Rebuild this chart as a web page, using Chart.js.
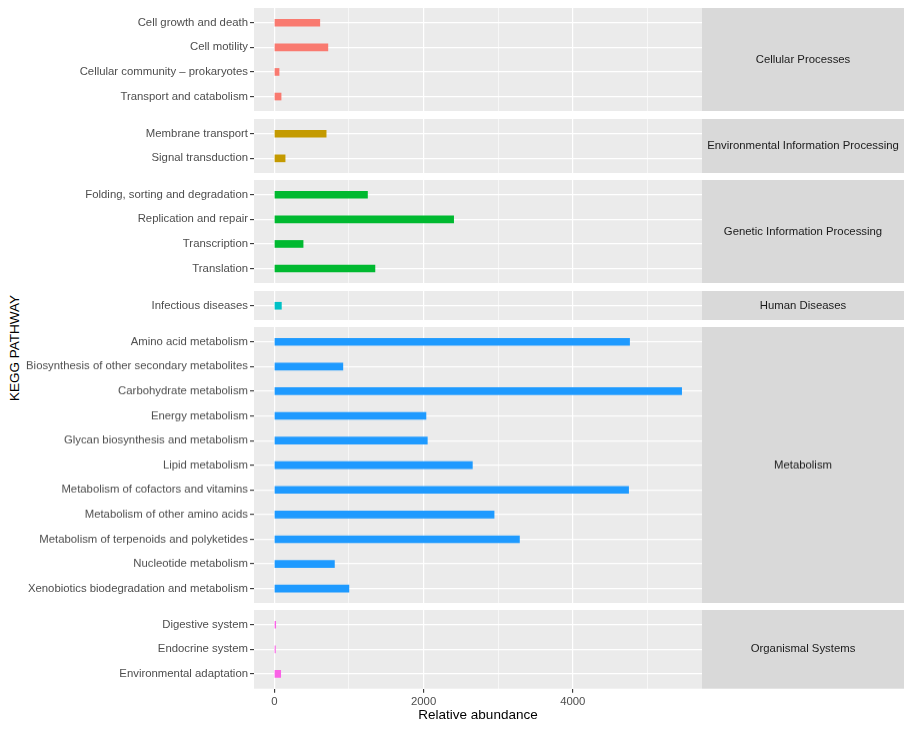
<!DOCTYPE html>
<html><head><meta charset="utf-8">
<script src="https://cdn.jsdelivr.net/npm/chart.js@4.4.1/dist/chart.umd.min.js"></script>
<style>
html,body{margin:0;padding:0;background:#fff;}
#root{position:relative;width:913px;height:731px;overflow:hidden;font-family:"Liberation Sans",Arial,sans-serif;}
.pane{position:absolute;left:0;width:913px;}
#ytitle{position:absolute;left:14px;top:348px;transform:translate(-50%,-50%) rotate(-90deg);white-space:nowrap;font-size:13.5px;color:#000;}
</style></head><body>
<div id="root"><div id="ytitle">KEGG PATHWAY</div></div>
<script>
// ---- data ----
const groupNames = ["Cellular Processes","Environmental Information Processing","Genetic Information Processing","Human Diseases","Metabolism","Organismal Systems"];
const groupColors = ["#F97A70","#C49A00","#00B930","#00C1C6","#1E9AFF","#FA62E6"];

const cellularLabels = ["Cell growth and death","Cell motility","Cellular community – prokaryotes","Transport and catabolism"];
const cellularValues = [609, 717, 63, 90];

const environmentalLabels = ["Membrane transport","Signal transduction"];
const environmentalValues = [694, 144];

const geneticLabels = ["Folding, sorting and degradation","Replication and repair","Transcription","Translation"];
const geneticValues = [1248, 2403, 385, 1348];

const humanLabels = ["Infectious diseases"];
const humanValues = [94];

const metabolismLabels = ["Amino acid metabolism","Biosynthesis of other secondary metabolites","Carbohydrate metabolism","Energy metabolism","Glycan biosynthesis and metabolism","Lipid metabolism","Metabolism of cofactors and vitamins","Metabolism of other amino acids","Metabolism of terpenoids and polyketides","Nucleotide metabolism","Xenobiotics biodegradation and metabolism"];
const metabolismValues = [4761, 918, 5459, 2032, 2050, 2654, 4748, 2945, 3285, 805, 999];

const organismalLabels = ["Digestive system","Endocrine system","Environmental adaptation"];
const organismalValues = [18, 14, 85];

const xMajorTicks = [0, 2000, 4000];
const xMinorTicks = [1000, 3000, 5000];
const xTitle = "Relative abundance";

const groupLabels = [cellularLabels, environmentalLabels, geneticLabels, humanLabels, metabolismLabels, organismalLabels];
const groupValues = [cellularValues, environmentalValues, geneticValues, humanValues, metabolismValues, organismalValues];

// ---- layout ----
const W = 913, H = 731;
const PANEL_TOP = 8, PANEL_BOTTOM = 688.7, GAP = 7.3;
const PANEL_LEFT = 254, PANEL_RIGHT = 702, STRIP_W = 202;
const FONT = '"Liberation Sans", Arial, sans-serif';
const SMALL = 11.35;

const totalRows = groupLabels.reduce((s, l) => s + l.length, 0);
const unit = (PANEL_BOTTOM - PANEL_TOP - GAP * (groupLabels.length - 1)) / (totalRows + 0.2 * groupLabels.length);

const allValues = groupValues.flat();
const dataMax = Math.max(...allValues);
const xMin = -0.05 * dataMax, xMax = dataMax * 1.05;

const stripPlugin = {
  id: 'facetStrip',
  beforeDraw(chart, args, opts) {
    const {ctx, chartArea: a} = chart;
    ctx.save();
    ctx.fillStyle = '#EBEBEB';
    ctx.fillRect(a.left, a.top, a.right - a.left, a.bottom - a.top);
    ctx.restore();
  },
  afterDraw(chart, args, opts) {
    const {ctx, chartArea: a} = chart;
    ctx.save();
    ctx.fillStyle = '#D9D9D9';
    ctx.fillRect(a.right, a.top, opts.width, a.bottom - a.top);
    ctx.fillStyle = '#1A1A1A';
    ctx.font = SMALL + 'px ' + FONT;
    ctx.textAlign = 'center';
    ctx.textBaseline = 'middle';
    ctx.fillText(opts.label, a.right + opts.width / 2, (a.top + a.bottom) / 2);
    ctx.restore();
  }
};

const root = document.getElementById('root');
let panelY = PANEL_TOP;
groupLabels.forEach((labels, gi) => {
  const n = labels.length;
  const ph = (n + 0.2) * unit;
  const isLast = gi === groupLabels.length - 1;
  const div = document.createElement('div');
  div.className = 'pane';
  div.style.top = panelY + 'px';
  div.style.height = (isLast ? H - panelY : ph) + 'px';
  const canvas = document.createElement('canvas');
  div.appendChild(canvas);
  root.appendChild(div);
  const axisH = isLast ? H - (panelY + ph) : 0;

  new Chart(canvas, {
    type: 'bar',
    data: {
      datasets: [{
        data: groupValues[gi].map((v, k) => ({x: v, y: k})),
        backgroundColor: groupColors[gi],
        borderWidth: 0,
        barThickness: 7
      }]
    },
    plugins: [stripPlugin],
    options: {
      indexAxis: 'y',
      responsive: true,
      maintainAspectRatio: false,
      animation: false,
      layout: {padding: {left: 0, top: 0, bottom: 0, right: W - PANEL_RIGHT}},
      plugins: {
        legend: {display: false},
        tooltip: {enabled: false},
        facetStrip: {label: groupNames[gi], width: STRIP_W}
      },
      scales: {
        y: {
          type: 'linear',
          reverse: true,
          offset: false,
          min: -0.6,
          max: n - 0.4,
          afterBuildTicks: s => { s.ticks = labels.map((_, k) => ({value: k})); },
          afterFit: s => { s.width = PANEL_LEFT; s.paddingTop = 0; s.paddingBottom = 0; },
          border: {display: false},
          grid: {offset: false, color: '#FFFFFF', lineWidth: 1.2, tickColor: '#333333', tickLength: 4, tickWidth: 1.1},
          ticks: {
            autoSkip: false,
            padding: 2,
            color: '#4D4D4D',
            font: {family: FONT, size: SMALL},
            callback: v => labels[v]
          }
        },
        x: {
          type: 'linear',
          min: xMin,
          max: xMax,
          offset: false,
          afterBuildTicks: s => { s.ticks = [...xMajorTicks, ...xMinorTicks].sort((a, b) => a - b).map(v => ({value: v})); },
          afterFit: s => { s.height = axisH; s.paddingLeft = 0; s.paddingRight = 0; },
          border: {display: false},
          grid: {
            offset: false,
            color: '#FFFFFF',
            lineWidth: c => (xMajorTicks.includes(c.tick && c.tick.value) ? 1.2 : 0.6),
            drawTicks: isLast,
            tickLength: 4,
            tickWidth: 1.1,
            tickColor: c => (xMajorTicks.includes(c.tick && c.tick.value) ? '#333333' : 'rgba(0,0,0,0)')
          },
          ticks: {
            display: isLast,
            autoSkip: false,
            maxRotation: 0,
            padding: 2,
            color: '#4D4D4D',
            font: {family: FONT, size: SMALL},
            callback: v => (xMajorTicks.includes(v) ? String(v) : '')
          },
          title: {
            display: isLast,
            text: xTitle,
            color: '#000000',
            font: {family: FONT, size: 13.5},
            padding: {top: 0, bottom: 7.6}
          }
        }
      }
    }
  });
  panelY += ph + GAP;
});
</script>
</body></html>
